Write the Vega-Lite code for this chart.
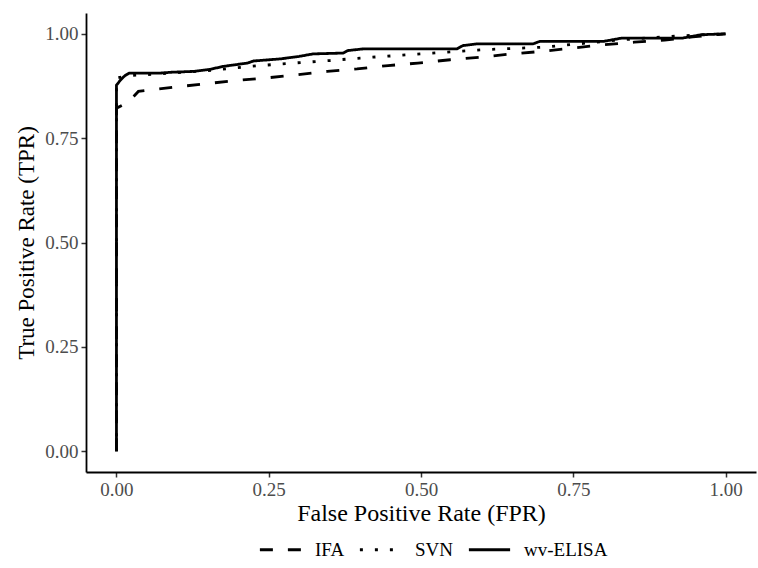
{
  "$schema": "https://vega.github.io/schema/vega-lite/v6.json",
  "autosize": {"type": "none"},
  "width": 670,
  "height": 459,
  "padding": {"left": 86, "top": 13, "right": 2, "bottom": 96},
  "background": "white",
  "config": {
    "view": {"stroke": null},
    "font": "Liberation Serif"
  },
  "data": {
    "values": [
      {"method": "IFA", "ord": 0, "fpr": 0, "tpr": 0},
      {"method": "IFA", "ord": 1, "fpr": 0, "tpr": 0.822},
      {"method": "IFA", "ord": 2, "fpr": 0.02, "tpr": 0.837},
      {"method": "IFA", "ord": 3, "fpr": 0.036, "tpr": 0.862},
      {"method": "IFA", "ord": 4, "fpr": 0.093, "tpr": 0.872},
      {"method": "IFA", "ord": 5, "fpr": 0.143, "tpr": 0.88},
      {"method": "IFA", "ord": 6, "fpr": 0.195, "tpr": 0.888},
      {"method": "IFA", "ord": 7, "fpr": 0.244, "tpr": 0.894},
      {"method": "IFA", "ord": 8, "fpr": 0.297, "tpr": 0.902},
      {"method": "IFA", "ord": 9, "fpr": 0.346, "tpr": 0.91},
      {"method": "IFA", "ord": 10, "fpr": 0.395, "tpr": 0.916},
      {"method": "IFA", "ord": 11, "fpr": 0.446, "tpr": 0.924},
      {"method": "IFA", "ord": 12, "fpr": 0.495, "tpr": 0.93},
      {"method": "IFA", "ord": 13, "fpr": 0.548, "tpr": 0.938},
      {"method": "IFA", "ord": 14, "fpr": 0.597, "tpr": 0.944},
      {"method": "IFA", "ord": 15, "fpr": 0.649, "tpr": 0.952},
      {"method": "IFA", "ord": 16, "fpr": 0.698, "tpr": 0.958},
      {"method": "IFA", "ord": 17, "fpr": 0.75, "tpr": 0.966},
      {"method": "IFA", "ord": 18, "fpr": 0.8, "tpr": 0.974},
      {"method": "IFA", "ord": 19, "fpr": 0.85, "tpr": 0.98},
      {"method": "IFA", "ord": 20, "fpr": 0.9, "tpr": 0.985},
      {"method": "IFA", "ord": 21, "fpr": 0.946, "tpr": 0.993},
      {"method": "IFA", "ord": 22, "fpr": 1, "tpr": 1},

      {"method": "SVN", "ord": 0, "fpr": 0, "tpr": 0},
      {"method": "SVN", "ord": 1, "fpr": 0, "tpr": 0.894},
      {"method": "SVN", "ord": 2, "fpr": 0.02, "tpr": 0.9},
      {"method": "SVN", "ord": 3, "fpr": 0.07, "tpr": 0.904},
      {"method": "SVN", "ord": 4, "fpr": 0.15, "tpr": 0.912},
      {"method": "SVN", "ord": 5, "fpr": 0.22, "tpr": 0.922},
      {"method": "SVN", "ord": 6, "fpr": 0.27, "tpr": 0.928},
      {"method": "SVN", "ord": 7, "fpr": 0.35, "tpr": 0.936},
      {"method": "SVN", "ord": 8, "fpr": 0.4, "tpr": 0.942},
      {"method": "SVN", "ord": 9, "fpr": 0.48, "tpr": 0.95},
      {"method": "SVN", "ord": 10, "fpr": 0.55, "tpr": 0.957},
      {"method": "SVN", "ord": 11, "fpr": 0.6, "tpr": 0.962},
      {"method": "SVN", "ord": 12, "fpr": 0.7, "tpr": 0.968},
      {"method": "SVN", "ord": 13, "fpr": 0.73, "tpr": 0.972},
      {"method": "SVN", "ord": 14, "fpr": 0.8, "tpr": 0.982},
      {"method": "SVN", "ord": 15, "fpr": 0.85, "tpr": 0.988},
      {"method": "SVN", "ord": 16, "fpr": 0.92, "tpr": 0.995},
      {"method": "SVN", "ord": 17, "fpr": 1, "tpr": 1},

      {"method": "wv-ELISA", "ord": 0, "fpr": 0, "tpr": 0},
      {"method": "wv-ELISA", "ord": 1, "fpr": 0, "tpr": 0.877},
      {"method": "wv-ELISA", "ord": 2, "fpr": 0.007, "tpr": 0.89},
      {"method": "wv-ELISA", "ord": 3, "fpr": 0.014, "tpr": 0.9},
      {"method": "wv-ELISA", "ord": 4, "fpr": 0.021, "tpr": 0.906},
      {"method": "wv-ELISA", "ord": 5, "fpr": 0.072, "tpr": 0.906},
      {"method": "wv-ELISA", "ord": 6, "fpr": 0.09, "tpr": 0.908},
      {"method": "wv-ELISA", "ord": 7, "fpr": 0.126, "tpr": 0.91},
      {"method": "wv-ELISA", "ord": 8, "fpr": 0.154, "tpr": 0.915},
      {"method": "wv-ELISA", "ord": 9, "fpr": 0.175, "tpr": 0.922},
      {"method": "wv-ELISA", "ord": 10, "fpr": 0.215, "tpr": 0.93},
      {"method": "wv-ELISA", "ord": 11, "fpr": 0.225, "tpr": 0.935},
      {"method": "wv-ELISA", "ord": 12, "fpr": 0.269, "tpr": 0.94},
      {"method": "wv-ELISA", "ord": 13, "fpr": 0.3, "tpr": 0.946},
      {"method": "wv-ELISA", "ord": 14, "fpr": 0.323, "tpr": 0.952},
      {"method": "wv-ELISA", "ord": 15, "fpr": 0.372, "tpr": 0.954},
      {"method": "wv-ELISA", "ord": 16, "fpr": 0.38, "tpr": 0.96},
      {"method": "wv-ELISA", "ord": 17, "fpr": 0.405, "tpr": 0.964},
      {"method": "wv-ELISA", "ord": 18, "fpr": 0.559, "tpr": 0.964},
      {"method": "wv-ELISA", "ord": 19, "fpr": 0.569, "tpr": 0.972},
      {"method": "wv-ELISA", "ord": 20, "fpr": 0.592, "tpr": 0.976},
      {"method": "wv-ELISA", "ord": 21, "fpr": 0.684, "tpr": 0.976},
      {"method": "wv-ELISA", "ord": 22, "fpr": 0.695, "tpr": 0.982},
      {"method": "wv-ELISA", "ord": 23, "fpr": 0.8, "tpr": 0.982},
      {"method": "wv-ELISA", "ord": 24, "fpr": 0.83, "tpr": 0.99},
      {"method": "wv-ELISA", "ord": 25, "fpr": 0.93, "tpr": 0.99},
      {"method": "wv-ELISA", "ord": 26, "fpr": 0.96, "tpr": 0.998},
      {"method": "wv-ELISA", "ord": 27, "fpr": 1, "tpr": 1}
    ]
  },
  "mark": {"type": "line", "color": "black", "strokeWidth": 2.8, "strokeCap": "butt"},
  "encoding": {
    "x": {
      "field": "fpr", "type": "quantitative",
      "scale": {"domain": [-0.05, 1.05], "nice": false, "zero": false},
      "axis": {
        "values": [0, 0.25, 0.5, 0.75, 1], "format": ".2f",
        "title": "False Positive Rate (FPR)",
        "grid": false, "domainColor": "black", "domainWidth": 1.8,
        "tickColor": "#333333", "tickWidth": 1.5, "tickSize": 5,
        "labelFont": "Liberation Serif", "labelFontSize": 19, "labelColor": "#4D4D4D", "labelPadding": 3,
        "titleFont": "Liberation Serif", "titleFontSize": 24, "titleFontWeight": "normal", "titleColor": "black", "titlePadding": 2
      }
    },
    "y": {
      "field": "tpr", "type": "quantitative",
      "scale": {"domain": [-0.05, 1.05], "nice": false, "zero": false},
      "axis": {
        "values": [0, 0.25, 0.5, 0.75, 1], "format": ".2f",
        "title": "True Positive Rate (TPR)",
        "grid": false, "domainColor": "black", "domainWidth": 1.8,
        "tickColor": "#333333", "tickWidth": 1.5, "tickSize": 5,
        "labelFont": "Liberation Serif", "labelFontSize": 19, "labelColor": "#4D4D4D", "labelPadding": 3,
        "titleFont": "Liberation Serif", "titleFontSize": 23, "titleFontWeight": "normal", "titleColor": "black", "titlePadding": 6
      }
    },
    "order": {"field": "ord", "type": "quantitative"},
    "strokeDash": {
      "field": "method", "type": "nominal",
      "scale": {"domain": ["IFA", "SVN", "wv-ELISA"], "range": [[13, 15], [3, 12], [1, 0]]},
      "legend": {
        "title": null, "orient": "none", "direction": "horizontal",
        "legendX": 172, "legendY": 514,
        "symbolType": "stroke", "symbolSize": 1700, "symbolStrokeWidth": 2.8, "symbolStrokeColor": "black",
        "labelFont": "Liberation Serif", "labelFontSize": 19, "labelColor": "black",
        "labelOffset": 12, "columnPadding": 9, "padding": 0
      }
    }
  }
}
